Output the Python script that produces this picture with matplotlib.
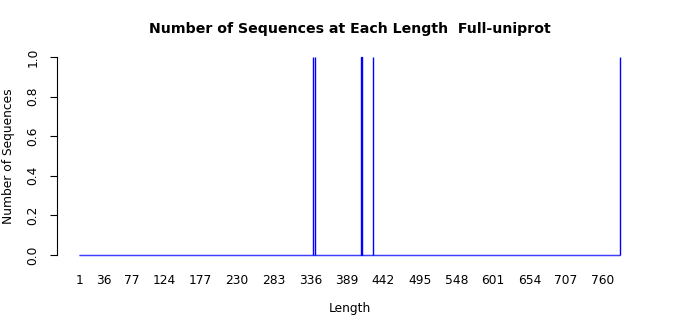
import numpy as np
import matplotlib
matplotlib.use("Agg")
import matplotlib.pyplot as plt

# sequence lengths that occur (every other length 1..max_len has count 0)
max_len = 785
seq_lengths = [340, 343, 410, 427, 785]
seq_counts = [1, 1, 1, 1, 1]
tick_labels = [1, 36, 77, 124, 177, 230, 283, 336, 389, 442, 495, 548, 601, 654, 707, 760]

lengths = np.arange(1, max_len + 1)
counts = np.zeros(max_len)
for l, c in zip(seq_lengths, seq_counts):
    counts[l - 1] = c

fig = plt.figure(figsize=(7, 3.15), dpi=100)
ax = fig.add_axes([0.0819, 0.1654, 0.8351, 0.6786])

ax.bar(lengths, counts, width=1.0, color="blue", edgecolor="blue", linewidth=1.0)

pad = 0.04 * max_len
ax.set_xlim(0.5 - pad, max_len + 0.5 + pad)
ax.set_ylim(-0.04, 1.04)

ax.set_xticks(tick_labels)
ax.set_xticklabels([str(t) for t in tick_labels])
ax.set_yticks([0, 0.2, 0.4, 0.6, 0.8, 1.0])
ax.set_yticklabels(["0.0", "0.2", "0.4", "0.6", "0.8", "1.0"], rotation=90, va="center")

ax.tick_params(axis="x", length=0, pad=8, labelsize=8.8)
ax.tick_params(axis="y", length=5, width=0.8, pad=8, labelsize=8.8)

for s in ["top", "right", "bottom"]:
    ax.spines[s].set_visible(False)
ax.spines["left"].set_bounds(0, 1)
ax.spines["left"].set_linewidth(0.8)

ax.set_xlabel("Length", fontsize=8.8, labelpad=11)
ax.set_ylabel("Number of Sequences", fontsize=8.8, labelpad=8)
fig.suptitle("Number of Sequences at Each Length  Full-uniprot", fontsize=10.2,
             fontweight="bold", x=0.5, y=0.93)

fig.savefig("out.png", dpi=100)
